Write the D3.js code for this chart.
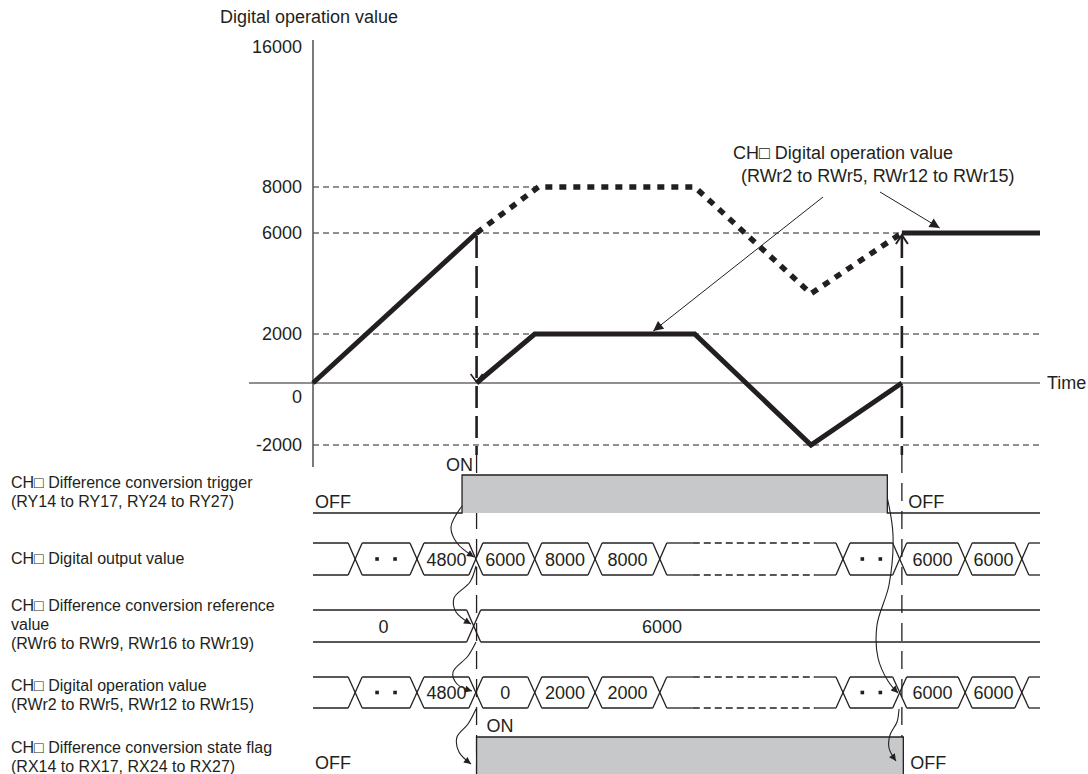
<!DOCTYPE html>
<html>
<head>
<meta charset="utf-8">
<script src="https://cdn.jsdelivr.net/npm/d3@7"></script>
<style>
body { margin: 0; background: #fff; }
text { font-family: "Liberation Sans", Arial, sans-serif; fill: #231f20; }
</style>
</head>
<body>
<div id="chart"></div>
<script>
// upper graph: y tick values (the axis is schematic, not to scale)
var tickValues = [16000, 8000, 6000, 2000, 0, -2000];

// series as [time, value]; time is 0..100 along the time axis
var rampBefore = [[0, 0], [22.5, 6000]];
var outputAfter = [[22.5, 6000], [31, 8000], [52.5, 8000], [68.5, 3600], [81, 6000]];
var operationAfter = [[22.5, 0], [30.5, 2000], [52.5, 2000], [68.5, -2000], [81, 0]];
var operationLast = [[81, 6000], [100, 6000]];
var gridLevels = [[8000, 31], [6000, 81], [2000, 100], [-2000, 100]];

// timing chart
var busEdges = [5.8, 14.3, 22.4, 30.5, 38.8, 47.7, 72.9, 80.7, 89.7, 97.5];
var outputCells = ["", "..", "4800", "6000", "8000", "8000", null, "..", "6000", "6000", ""];
var operationCells = ["", "..", "4800", "0", "2000", "2000", null, "..", "6000", "6000", ""];
var refEdges = [22.1];
var refCells = ["0", "6000"];
var refLabelTimes = [9.7, 48];
var triggerTimes = [20.5, 79];
var flagTimes = [22.5, 81.2];
var markerTimes = [22.5, 81];

var rowLabels = [
    ["CH\u25a1 Difference conversion trigger", "(RY14 to RY17, RY24 to RY27)"],
    ["CH\u25a1 Digital output value"],
    ["CH\u25a1 Difference conversion reference", "value", "(RWr6 to RWr9, RWr16 to RWr19)"],
    ["CH\u25a1 Digital operation value", "(RWr2 to RWr5, RWr12 to RWr15)"],
    ["CH\u25a1 Difference conversion state flag", "(RX14 to RX17, RX24 to RX27)"]
];

var ink = "#231f20", grey = "#c7c8ca";

var svg = d3.select("#chart").append("svg")
    .attr("width", 1088)
    .attr("height", 774);

var defs = svg.append("defs");
defs.append("marker")
    .attr("id", "tri")
    .attr("viewBox", "0 0 10 10")
    .attr("refX", 10).attr("refY", 5)
    .attr("markerUnits", "userSpaceOnUse")
    .attr("markerWidth", 13).attr("markerHeight", 10)
    .attr("orient", "auto")
    .append("path").attr("d", "M0,0L10,5L0,10z").attr("fill", ink);
defs.append("marker")
    .attr("id", "small")
    .attr("viewBox", "0 0 10 10")
    .attr("refX", 10).attr("refY", 5)
    .attr("markerUnits", "userSpaceOnUse")
    .attr("markerWidth", 9).attr("markerHeight", 7)
    .attr("orient", "auto")
    .append("path").attr("d", "M0,0L10,5L0,10z").attr("fill", ink);

var x = d3.scaleLinear().domain([0, 100]).range([313, 1040]);
var y = d3.scaleLinear()
    .domain(tickValues.slice().sort(d3.ascending))
    .range([445, 383, 334, 233, 187, 47]);

var line = d3.line()
    .x(function(d) { return x(d[0]) })
    .y(function(d) { return y(d[1]) });

// ---------- upper graph ----------
svg.append("text")
    .attr("x", 220).attr("y", 23)
    .style("font-size", "18px")
    .text("Digital operation value");

svg.selectAll(".grid")
    .data(gridLevels)
    .enter().append("line")
    .attr("class", "grid")
    .attr("x1", x(0)).attr("x2", function(d) { return x(d[1]) })
    .attr("y1", function(d) { return y(d[0]) }).attr("y2", function(d) { return y(d[0]) })
    .attr("stroke", ink).attr("stroke-width", 1)
    .attr("stroke-dasharray", "6,4");

var yAxis = svg.append("g")
    .attr("transform", "translate(" + x(0) + ",0)")
    .call(d3.axisLeft(y).tickValues(tickValues).tickSize(0).tickPadding(11)
        .tickFormat(function(d) { return String(d) }));
yAxis.select(".domain").remove();
yAxis.selectAll("text")
    .style("font-size", "18px")
    .attr("fill", ink)
    .attr("dy", function(d) { return d === 0 ? "1.1em" : "0.32em" });

svg.append("line")
    .attr("x1", x(0)).attr("x2", x(0))
    .attr("y1", 40).attr("y2", 467)
    .attr("stroke", "#58595b").attr("stroke-width", 1.6);

svg.append("line")
    .attr("x1", 249).attr("x2", x(100))
    .attr("y1", y(0)).attr("y2", y(0))
    .attr("stroke", ink).attr("stroke-width", 1.2);
svg.append("text")
    .attr("x", x(100) + 7).attr("y", y(0) + 6)
    .style("font-size", "18px")
    .text("Time");

// vertical marker lines (thick in the graph, thin in the timing chart)
markerTimes.forEach(function(t) {
    svg.append("line")
        .attr("x1", x(t)).attr("x2", x(t))
        .attr("y1", y(6000) + 3).attr("y2", 455)
        .attr("stroke", ink).attr("stroke-width", 2.6)
        .attr("stroke-dasharray", "22,8");
    svg.append("line")
        .attr("x1", x(t)).attr("x2", x(t))
        .attr("y1", 455).attr("y2", 774)
        .attr("stroke", ink).attr("stroke-width", 1.3)
        .attr("stroke-dasharray", "18,10");
});
// open arrow heads on the marker lines
var head = d3.line();
svg.append("path")
    .attr("d", head([[x(22.5) - 6, y(0) - 9], [x(22.5), y(0) - 1], [x(22.5) + 6, y(0) - 9]]))
    .attr("fill", "none").attr("stroke", ink).attr("stroke-width", 1.6);
svg.append("path")
    .attr("d", head([[x(81) - 6, y(6000) + 11], [x(81), y(6000) + 2], [x(81) + 6, y(6000) + 11]]))
    .attr("fill", "none").attr("stroke", ink).attr("stroke-width", 2);

[rampBefore, operationAfter, operationLast].forEach(function(s) {
    svg.append("path")
        .attr("d", line(s))
        .attr("fill", "none").attr("stroke", ink)
        .attr("stroke-width", 5).attr("stroke-linejoin", "miter");
});
svg.append("path")
    .attr("d", line(outputAfter))
    .attr("fill", "none").attr("stroke", ink)
    .attr("stroke-width", 5.5).attr("stroke-dasharray", "7,7");

// annotation
svg.append("text").attr("x", 733).attr("y", 159).style("font-size", "18px")
    .text("CH\u25a1 Digital operation value");
svg.append("text").attr("x", 741).attr("y", 182).style("font-size", "18px")
    .text("(RWr2 to RWr5, RWr12 to RWr15)");
svg.append("line")
    .attr("x1", 823).attr("y1", 197)
    .attr("x2", x(46.8)).attr("y2", y(2000) - 3)
    .attr("stroke", ink).attr("stroke-width", 1)
    .attr("marker-end", "url(#tri)");
svg.append("line")
    .attr("x1", 880).attr("y1", 192)
    .attr("x2", x(86.2)).attr("y2", y(6000) - 5)
    .attr("stroke", ink).attr("stroke-width", 1)
    .attr("marker-end", "url(#tri)");

// ---------- timing chart ----------
var labelG = svg.append("g");
var labelTops = [482, 558, 605, 685, 747];
rowLabels.forEach(function(lines, i) {
    lines.forEach(function(s, j) {
        labelG.append("text")
            .attr("x", 11).attr("y", labelTops[i] + j * 19 + 6)
            .style("font-size", "16px")
            .text(s);
    });
});

function onOff(t0, t1, yHigh, yLow) {
    var g = svg.append("g");
    g.append("rect")
        .attr("x", x(t0)).attr("y", yHigh)
        .attr("width", x(t1) - x(t0)).attr("height", yLow - yHigh)
        .attr("fill", grey);
    g.append("path")
        .attr("d", d3.line()([[x(0), yLow], [x(t0), yLow], [x(t0), yHigh], [x(t1), yHigh], [x(t1), yLow], [x(100), yLow]]))
        .attr("fill", "none").attr("stroke", ink).attr("stroke-width", 1.3);
}

var trigHigh = 475, trigLow = 513;
onOff(triggerTimes[0], triggerTimes[1], trigHigh, trigLow);
var flagHigh = 737, flagLow = 776;
onOff(flagTimes[0], flagTimes[1], flagHigh, flagLow);

function label(s, xx, yy) {
    svg.append("text").attr("x", xx).attr("y", yy).style("font-size", "18px").text(s);
}
label("ON", x(triggerTimes[0]) - 16, 471);
label("OFF", 315, 508);
label("OFF", x(triggerTimes[1]) + 21, 508);
label("ON", x(flagTimes[0]) + 10, 732);
label("OFF", 315, 769);
label("OFF", x(flagTimes[1]) + 7, 769);

var h = 7;
function busRow(top, bot, edges, cells, labelTimes) {
    var g = svg.append("g").attr("stroke", ink).attr("stroke-width", 1.3).attr("fill", "none");
    var mid = (top + bot) / 2;
    edges.forEach(function(e) {
        g.append("line").attr("x1", x(e) - h).attr("y1", top).attr("x2", x(e) + h).attr("y2", bot);
        g.append("line").attr("x1", x(e) - h).attr("y1", bot).attr("x2", x(e) + h).attr("y2", top);
    });
    cells.forEach(function(c, i) {
        var left = i === 0 ? x(0) : x(edges[i - 1]) + h;
        var right = i === cells.length - 1 ? x(100) : x(edges[i]) - h;
        [top, bot].forEach(function(yy) {
            if (c === null) {
                g.append("line").attr("x1", left).attr("x2", left + 26).attr("y1", yy).attr("y2", yy);
                g.append("line").attr("x1", left + 26).attr("x2", right - 21).attr("y1", yy).attr("y2", yy)
                    .attr("stroke-dasharray", "7,4");
                g.append("line").attr("x1", right - 21).attr("x2", right).attr("y1", yy).attr("y2", yy);
            } else {
                g.append("line").attr("x1", left).attr("x2", right).attr("y1", yy).attr("y2", yy);
            }
        });
        if (!c) return;
        var cx = labelTimes ? x(labelTimes[i]) : (left + right) / 2;
        if (c === "..") {
            [-9, 9].forEach(function(dx) {
                svg.append("rect").attr("x", cx + dx - 1.8).attr("y", mid - 1.8)
                    .attr("width", 3.6).attr("height", 3.6).attr("fill", ink);
            });
        } else {
            svg.append("text").attr("x", cx).attr("y", mid + 6.5)
                .attr("text-anchor", "middle").style("font-size", "18px").text(c);
        }
    });
}

busRow(543, 575, busEdges, outputCells);
busRow(610, 642, refEdges, refCells, refLabelTimes);
busRow(677, 708, busEdges, operationCells);

// causality arrows
var curve = d3.line().curve(d3.curveCatmullRom.alpha(0.5));
var causal = [
    [[x(20.5), 506], [451, 527], [457, 543], [474, 557]],
    [[476, 566], [470, 582], [454, 598], [456, 612], [471, 624]],
    [[476, 642], [468, 656], [453, 672], [457, 684], [472, 691]],
    [[476, 709], [468, 724], [457, 737], [459, 752], [471, 764]],
    [[x(triggerTimes[1]), 498], [893, 535], [889, 585], [877, 625], [878, 658], [888, 681], [898, 693]],
    [[899, 709], [897, 722], [890, 735], [889, 748], [896, 761]]
];
causal.forEach(function(p) {
    svg.append("path")
        .attr("d", curve(p))
        .attr("fill", "none").attr("stroke", ink).attr("stroke-width", 1.1)
        .attr("marker-end", "url(#small)");
});
</script>
</body>
</html>
